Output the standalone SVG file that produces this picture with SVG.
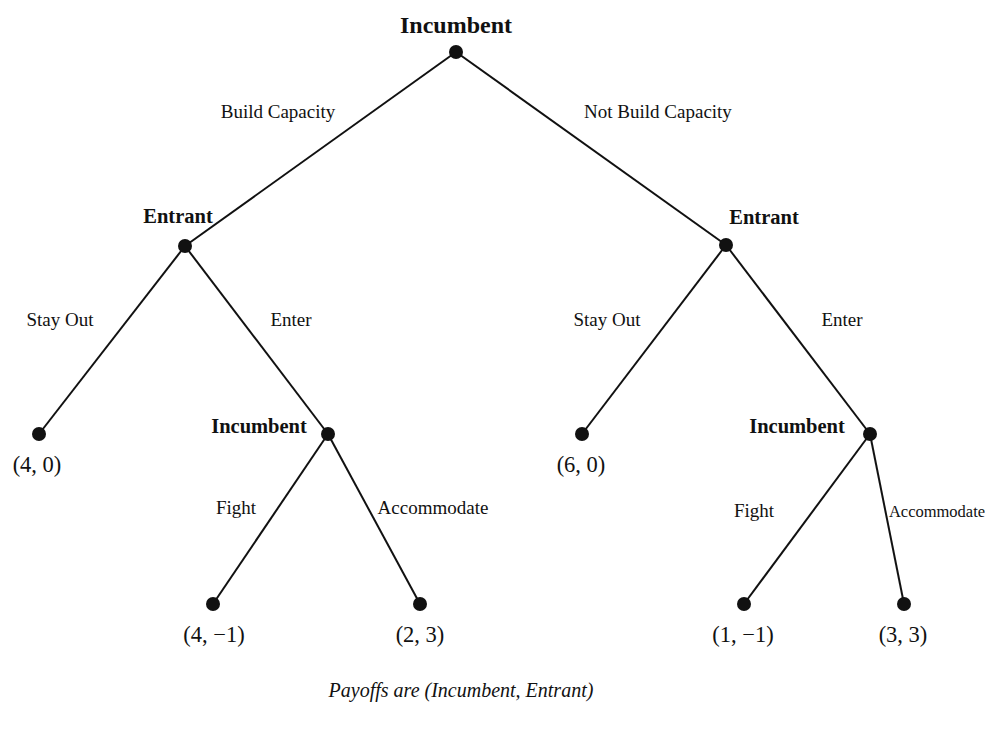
<svg xmlns="http://www.w3.org/2000/svg" width="985" height="731" viewBox="0 0 985 731">
<style>
text{font-family:"Liberation Serif","Times New Roman",serif;fill:#111;text-anchor:middle}
.b{font-weight:bold;font-size:20.5px}
.l{font-size:19px}
.p{font-size:22.5px}
.e line{stroke:#111;stroke-width:2}
circle{fill:#111}
</style>
<rect width="985" height="731" fill="#fff"/>
<g id="connectors" class="e">
<line x1="456" y1="52" x2="185" y2="246"/>
<line x1="456" y1="52" x2="726" y2="245"/>
<line x1="185" y1="246" x2="39" y2="434"/>
<line x1="185" y1="246" x2="328" y2="434"/>
<line x1="726" y1="245" x2="582" y2="434"/>
<line x1="726" y1="245" x2="870" y2="434"/>
<line x1="328" y1="434" x2="213" y2="604"/>
<line x1="328" y1="434" x2="420" y2="604"/>
<line x1="870" y1="434" x2="744" y2="604"/>
<line x1="870" y1="434" x2="904" y2="604"/>
</g>
<g id="edge-labels">
<text class="l" x="278" y="118">Build Capacity</text>
<text class="l" x="658" y="118">Not Build Capacity</text>
<text class="l" x="60" y="326">Stay Out</text>
<text class="l" x="291" y="326">Enter</text>
<text class="l" x="607" y="326">Stay Out</text>
<text class="l" x="842" y="326">Enter</text>
<text class="l" x="236" y="514">Fight</text>
<text class="l" x="433" y="514">Accommodate</text>
<text class="l" x="754" y="517">Fight</text>
<text x="937" y="517" style="font-size:16.5px">Accommodate</text>
</g>
<g id="root"><circle cx="456" cy="52" r="7"/><text class="b" x="456" y="33" style="font-size:24px">Incumbent</text></g>
<g id="entrant-left"><circle cx="185" cy="246" r="7"/><text class="b" x="178" y="223">Entrant</text></g>
<g id="entrant-right"><circle cx="726" cy="245" r="7"/><text class="b" x="764" y="224">Entrant</text></g>
<g id="leaf-4-0"><circle cx="39" cy="434" r="7"/><text class="p" x="37" y="472">(4, 0)</text></g>
<g id="incumbent-left"><circle cx="328" cy="434" r="7"/><text class="b" x="259" y="433">Incumbent</text></g>
<g id="leaf-6-0"><circle cx="582" cy="434" r="7"/><text class="p" x="581" y="472">(6, 0)</text></g>
<g id="incumbent-right"><circle cx="870" cy="434" r="7"/><text class="b" x="797" y="433">Incumbent</text></g>
<g id="leaf-4-m1"><circle cx="213" cy="604" r="7"/><text class="p" x="214" y="642">(4, −1)</text></g>
<g id="leaf-2-3"><circle cx="420" cy="604" r="7"/><text class="p" x="420" y="642">(2, 3)</text></g>
<g id="leaf-1-m1"><circle cx="744" cy="604" r="7"/><text class="p" x="743" y="642">(1, −1)</text></g>
<g id="leaf-3-3"><circle cx="904" cy="604" r="7"/><text class="p" x="903" y="642">(3, 3)</text></g>
<text x="461" y="697" style="font-style:italic;font-size:20px">Payoffs are (Incumbent, Entrant)</text>
</svg>
